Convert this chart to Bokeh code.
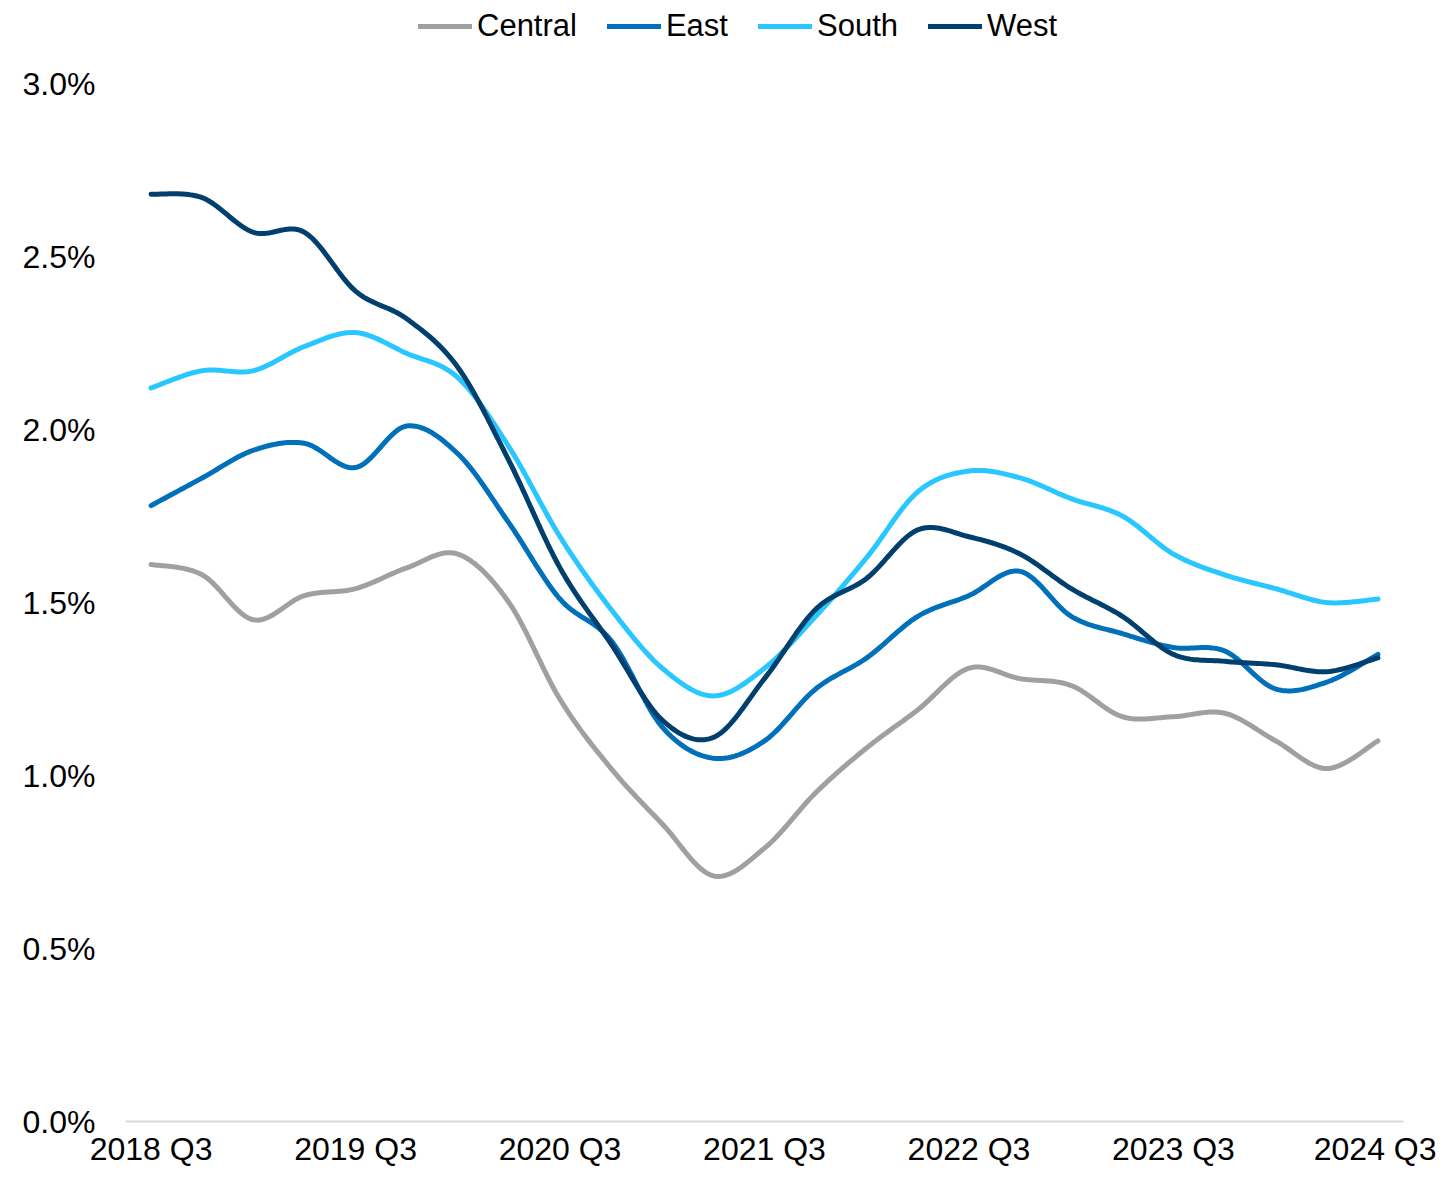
import numpy as np
from bokeh.plotting import figure
from bokeh.models import (Range1d, FixedTicker, PrintfTickFormatter, Legend, LegendItem)
from bokeh.embed import file_html
from bokeh.resources import INLINE

quarters = ["2018 Q3", "2018 Q4", "2019 Q1", "2019 Q2", "2019 Q3", "2019 Q4",
            "2020 Q1", "2020 Q2", "2020 Q3", "2020 Q4", "2021 Q1", "2021 Q2",
            "2021 Q3", "2021 Q4", "2022 Q1", "2022 Q2", "2022 Q3", "2022 Q4",
            "2023 Q1", "2023 Q2", "2023 Q3", "2023 Q4", "2024 Q1", "2024 Q2", "2024 Q3"]
tick_labels = ["2018 Q3", "2019 Q3", "2020 Q3", "2021 Q3", "2022 Q3", "2023 Q3", "2024 Q3"]
y_ticks = [0.0, 0.5, 1.0, 1.5, 2.0, 2.5, 3.0]

central = [1.61, 1.58, 1.45, 1.52, 1.54, 1.60, 1.64, 1.50, 1.22, 1.02, 0.86, 0.71, 0.79,
           0.95, 1.08, 1.19, 1.31, 1.28, 1.26, 1.17, 1.17, 1.18, 1.10, 1.02, 1.10]
east = [1.78, 1.86, 1.94, 1.96, 1.89, 2.01, 1.93, 1.73, 1.51, 1.39, 1.14, 1.05, 1.10,
        1.25, 1.34, 1.46, 1.52, 1.59, 1.46, 1.41, 1.37, 1.36, 1.25, 1.27, 1.35]
south = [2.12, 2.17, 2.17, 2.24, 2.28, 2.22, 2.15, 1.95, 1.69, 1.48, 1.31, 1.23, 1.31,
         1.46, 1.63, 1.82, 1.88, 1.86, 1.80, 1.75, 1.64, 1.58, 1.54, 1.50, 1.51]
west = [2.68, 2.67, 2.57, 2.57, 2.40, 2.32, 2.18, 1.91, 1.60, 1.38, 1.16, 1.11, 1.28,
        1.48, 1.57, 1.71, 1.69, 1.64, 1.54, 1.46, 1.35, 1.33, 1.32, 1.30, 1.34]

series_names = ["Central", "East", "South", "West"]
series_values = [central, east, south, west]
series_colors = ["#A0A0A0", "#0070BA", "#28C7FF", "#003F6E"]

FONT = "Liberation Sans"
FS_AXIS = "32px"
FS_LEG = "31px"


def smooth(xs, ys, n=24):
    """Excel-like smoothed line: cubic Bezier segments with Catmull-Rom control points."""
    pts = np.column_stack([xs, ys]).astype(float)
    out = []
    m = len(pts)
    for i in range(m - 1):
        p0 = pts[i - 1] if i > 0 else pts[i]
        p1 = pts[i]
        p2 = pts[i + 1]
        p3 = pts[i + 2] if i + 2 < m else pts[i + 1]
        c1 = p1 + (p2 - p0) / 6.0
        c2 = p2 - (p3 - p1) / 6.0
        t = np.linspace(0, 1, n, endpoint=(i == m - 2))[:, None]
        seg = ((1 - t) ** 3) * p1 + 3 * ((1 - t) ** 2) * t * c1 + 3 * (1 - t) * t ** 2 * c2 + t ** 3 * p2
        out.append(seg)
    arr = np.vstack(out)
    return arr[:, 0], arr[:, 1]


W, H = 1436, 1169
LEFT, RIGHT = 125, 1403
TOP_VAL_Y, BOTTOM = 83, 1121
px_per_unit = (BOTTOM - TOP_VAL_Y) / 3.0
y_end = BOTTOM / px_per_unit   # frame starts at the very top of the canvas

p = figure(width=W, height=H, output_backend="svg", toolbar_location=None,
           x_range=Range1d(-0.5, len(quarters) - 0.5), y_range=Range1d(0, y_end),
           min_border_left=LEFT, min_border_right=W - RIGHT, min_border_top=0,
           min_border_bottom=H - BOTTOM)
p.outline_line_color = None
p.xgrid.visible = False
p.ygrid.visible = False
p.background_fill_color = "white"
p.border_fill_color = "white"

xs = np.arange(len(quarters))
items = []
for name, vals, col in zip(series_names, series_values, series_colors):
    sx, sy = smooth(xs, vals)
    r = p.line(sx, sy, line_color=col, line_width=5, line_cap="round", line_join="round")
    items.append(LegendItem(label=name, renderers=[r]))

# x axis
tick_pos = [quarters.index(t) for t in tick_labels]
p.xaxis.ticker = FixedTicker(ticks=tick_pos)
p.xaxis.major_label_overrides = {i: quarters[i] for i in tick_pos}
p.xaxis.axis_line_color = "#D9D9D9"
p.xaxis.axis_line_width = 2
p.xaxis.major_tick_line_color = None
p.xaxis.minor_tick_line_color = None
p.xaxis.major_label_text_font = FONT
p.xaxis.major_label_text_font_size = FS_AXIS
p.xaxis.major_label_text_color = "black"
p.xaxis.major_label_standoff = 3

# y axis
p.yaxis.ticker = FixedTicker(ticks=y_ticks)
p.yaxis.formatter = PrintfTickFormatter(format="%.1f%%")
p.yaxis.axis_line_color = None
p.yaxis.major_tick_line_color = None
p.yaxis.minor_tick_line_color = None
p.yaxis.major_label_text_font = FONT
p.yaxis.major_label_text_font_size = FS_AXIS
p.yaxis.major_label_text_color = "black"
p.yaxis.major_label_standoff = 24

legend = Legend(items=items, orientation="horizontal",
                location=(418 - LEFT, BOTTOM - 44),
                glyph_width=54, glyph_height=24, label_height=24, label_standoff=5,
                spacing=30, padding=0, margin=0,
                label_text_font=FONT, label_text_font_size=FS_LEG, label_text_color="black",
                background_fill_alpha=0, border_line_color=None)
p.add_layout(legend)

open("out.html", "w").write(file_html(p, INLINE))
